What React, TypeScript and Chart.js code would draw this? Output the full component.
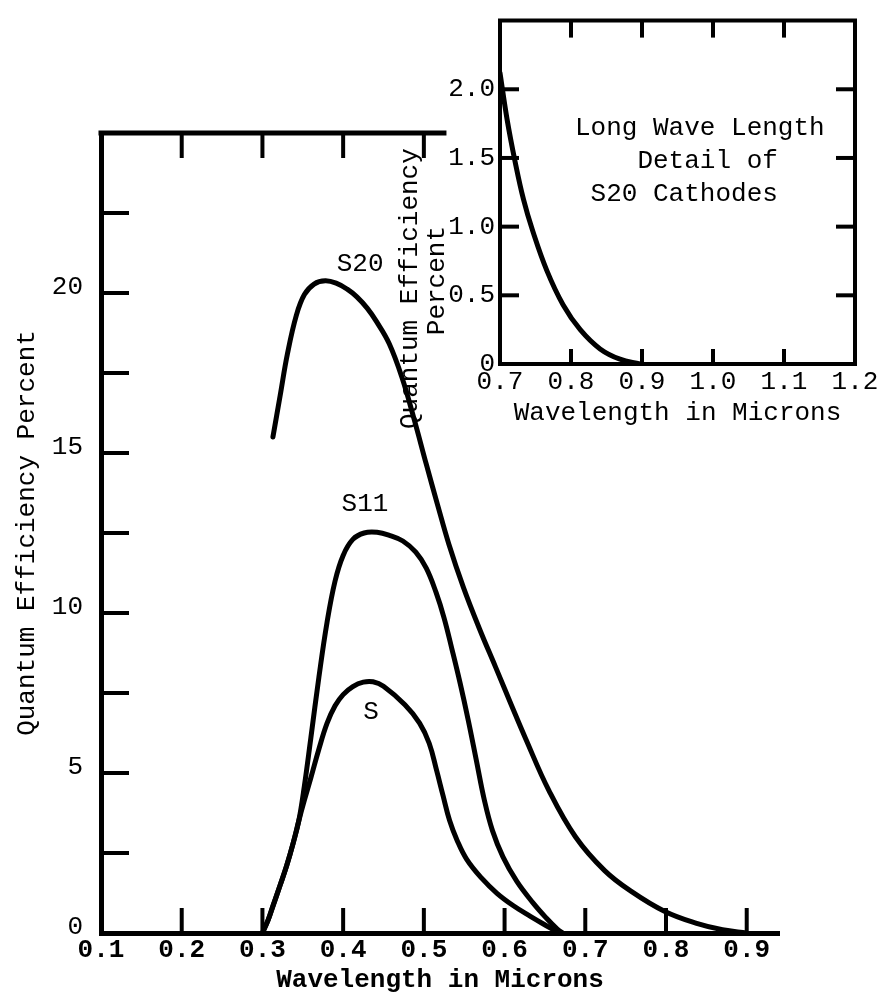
import React, { useEffect, useRef } from 'react';
import { Chart, registerables } from 'chart.js';

Chart.register(...registerables);

const FONT = '"Liberation Mono", "DejaVu Sans Mono", monospace';

// ---------- main chart data ----------
const mainXTicks = [0.1, 0.2, 0.3, 0.4, 0.5, 0.6, 0.7, 0.8, 0.9];
const mainYTicks = [0, 5, 10, 15, 20];
const mainYMarks = [2.5, 5, 7.5, 10, 12.5, 15, 17.5, 20, 22.5];
const mainBottomMarks = [0.2, 0.3, 0.4, 0.5, 0.6, 0.7, 0.8, 0.9];
const mainTopMarks = [0.2, 0.3, 0.4, 0.5];
const mainTopBorderEnd = 0.528;

const s20X = [0.313, 0.322, 0.331, 0.342, 0.352, 0.364, 0.378, 0.392, 0.405, 0.417, 0.430, 0.441, 0.457, 0.473, 0.488, 0.503, 0.517, 0.531, 0.549, 0.569, 0.589, 0.608, 0.626, 0.655, 0.688, 0.724, 0.757, 0.798, 0.838, 0.870, 0.900];
const s20Y = [15.5, 16.8, 18.1, 19.3, 19.95, 20.28, 20.38, 20.3, 20.12, 19.88, 19.52, 19.12, 18.42, 17.35, 16.05, 14.65, 13.38, 12.15, 10.8, 9.5, 8.3, 7.15, 6.08, 4.45, 3.0, 1.95, 1.3, 0.68, 0.3, 0.1, 0.0];

const s11X = [0.300, 0.307, 0.313, 0.322, 0.330, 0.338, 0.345, 0.352, 0.360, 0.370, 0.380, 0.390, 0.400, 0.412, 0.426, 0.442, 0.458, 0.474, 0.490, 0.503, 0.515, 0.525, 0.535, 0.545, 0.555, 0.565, 0.575, 0.585, 0.598, 0.615, 0.635, 0.652, 0.665, 0.672];
const s11Y = [0, 0.4, 0.84, 1.5, 2.1, 2.8, 3.5, 4.6, 6.1, 8.0, 9.7, 11.0, 11.8, 12.3, 12.5, 12.52, 12.42, 12.25, 11.9, 11.4, 10.65, 9.85, 8.85, 7.8, 6.65, 5.4, 4.15, 3.2, 2.38, 1.62, 0.95, 0.46, 0.13, 0];

const sX = [0.300, 0.307, 0.313, 0.322, 0.330, 0.338, 0.345, 0.352, 0.360, 0.370, 0.380, 0.390, 0.400, 0.412, 0.425, 0.437, 0.450, 0.4765, 0.4947, 0.5066, 0.5158, 0.5237, 0.5318, 0.5411, 0.5531, 0.5713, 0.5906, 0.611, 0.632, 0.657, 0.667];
const sY = [0, 0.4, 0.84, 1.5, 2.1, 2.8, 3.5, 4.15, 4.85, 5.75, 6.55, 7.1, 7.45, 7.7, 7.84, 7.85, 7.71, 7.13, 6.56, 5.93, 5.08, 4.3, 3.52, 2.9, 2.3, 1.72, 1.24, 0.85, 0.52, 0.15, 0];

const curveLabels = ['S20', 'S11', 'S'];
const curveLabelX = [0.421, 0.427, 0.4346];
const curveLabelY = [20.9, 13.4, 6.9];

// ---------- inset chart data ----------
const insetXTicks = [0.7, 0.8, 0.9, 1.0, 1.1, 1.2];
const insetYTicks = [0, 0.5, 1.0, 1.5, 2.0];
const insetYMarks = [0.5, 1.0, 1.5, 2.0];
const insetXMarks = [0.8, 0.9, 1.0, 1.1];
const insetX = [0.700, 0.710, 0.721, 0.733, 0.746, 0.766, 0.789, 0.813, 0.841, 0.869, 0.897];
const insetY = [2.12, 1.78, 1.48, 1.20, 0.97, 0.68, 0.43, 0.25, 0.11, 0.035, 0.0];
const insetNote = ['Long Wave Length', '    Detail of', ' S20 Cathodes'];
const insetYTitle = ['Quantum Efficiency', 'Percent'];

const pts = (xs: number[], ys: number[]) => xs.map((x, i) => ({ x, y: ys[i] }));

function seg(ctx: any, x1: number, y1: number, x2: number, y2: number) {
  ctx.beginPath();
  ctx.moveTo(x1, y1);
  ctx.lineTo(x2, y2);
  ctx.stroke();
}

const mainDecor = {
  id: 'mainDecor',
  afterDraw(chart: any) {
    const { ctx, scales } = chart;
    const x = scales.x;
    const y = scales.y;
    ctx.save();
    ctx.strokeStyle = '#000';
    ctx.fillStyle = '#000';
    ctx.lineWidth = 4;
    for (const v of mainYMarks) {
      const py = y.getPixelForValue(v);
      seg(ctx, x.left, py, x.left + 28, py);
    }
    for (const v of mainBottomMarks) {
      const px = x.getPixelForValue(v);
      seg(ctx, px, y.bottom, px, y.bottom - 25);
    }
    const yt = y.getPixelForValue(25);
    ctx.lineWidth = 5;
    seg(ctx, x.left - 2.5, yt, x.getPixelForValue(mainTopBorderEnd), yt);
    ctx.lineWidth = 4;
    for (const v of mainTopMarks) {
      const px = x.getPixelForValue(v);
      seg(ctx, px, yt, px, yt + 25);
    }
    ctx.font = `26px ${FONT}`;
    ctx.textAlign = 'center';
    ctx.textBaseline = 'middle';
    curveLabels.forEach((t, i) => {
      ctx.fillText(t, x.getPixelForValue(curveLabelX[i]), y.getPixelForValue(curveLabelY[i]));
    });
    ctx.restore();
  },
};

const insetDecor = {
  id: 'insetDecor',
  afterDraw(chart: any) {
    const { ctx, scales, chartArea } = chart;
    const x = scales.x;
    const y = scales.y;
    ctx.save();
    ctx.strokeStyle = '#000';
    ctx.fillStyle = '#000';
    ctx.lineWidth = 4;
    seg(ctx, x.left - 2, y.top, x.right + 2, y.top);
    seg(ctx, x.right, y.top, x.right, y.bottom + 2);
    for (const v of insetYMarks) {
      const py = y.getPixelForValue(v);
      seg(ctx, x.left, py, x.left + 19, py);
      seg(ctx, x.right, py, x.right - 19, py);
    }
    for (const v of insetXMarks) {
      const px = x.getPixelForValue(v);
      seg(ctx, px, y.bottom, px, y.bottom - 15);
      seg(ctx, px, y.top, px, y.top + 17);
    }
    ctx.font = `26px ${FONT}`;
    ctx.textBaseline = 'middle';
    ctx.textAlign = 'left';
    insetNote.forEach((t, i) => {
      ctx.fillText(t, chartArea.left + 75, chartArea.top + 108 + i * 33);
    });
    ctx.textAlign = 'center';
    const titleX = [chartArea.left - 90, chartArea.left - 63];
    const titleY = [chartArea.top + 268, chartArea.top + 260];
    insetYTitle.forEach((t, i) => {
      ctx.save();
      ctx.translate(titleX[i], titleY[i]);
      ctx.rotate(-Math.PI / 2);
      ctx.fillText(t, 0, 0);
      ctx.restore();
    });
    ctx.restore();
  },
};

export default function App() {
  const mainRef = useRef<HTMLCanvasElement>(null);
  const insetRef = useRef<HTMLCanvasElement>(null);

  useEffect(() => {
    const black = '#000';
    const lineDs = (xs: number[], ys: number[]) => ({
      data: pts(xs, ys),
      borderColor: black,
      borderWidth: 5,
      pointRadius: 0,
      tension: 0.4,
      borderCapStyle: 'round' as const,
      borderJoinStyle: 'round' as const,
      fill: false,
    });

    const main = new Chart(mainRef.current as HTMLCanvasElement, {
      type: 'line',
      data: { datasets: [lineDs(s20X, s20Y), lineDs(s11X, s11Y), lineDs(sX, sY)] },
      options: {
        animation: false,
        responsive: false,
        layout: { padding: { left: 0, right: 108, top: 133, bottom: 0 } },
        plugins: { legend: { display: false }, tooltip: { enabled: false } },
        scales: {
          x: {
            type: 'linear',
            min: 0.1,
            max: 0.94,
            afterBuildTicks: (s: any) => { s.ticks = mainXTicks.map((v) => ({ value: v })); },
            afterFit: (s: any) => { s.height = 67; },
            grid: { display: false, drawTicks: false },
            border: { display: true, color: black, width: 5 },
            ticks: {
              padding: 2,
              color: black,
              autoSkip: false,
              maxRotation: 0,
              font: { family: FONT, size: 26, weight: 'bold' },
              callback: (v: any) => Number(v).toFixed(1),
            },
            title: {
              display: true,
              text: 'Wavelength in Microns',
              color: black,
              font: { family: FONT, size: 26, weight: 'bold' },
              padding: { top: 0, bottom: 4 },
            },
          },
          y: {
            type: 'linear',
            min: 0,
            max: 25,
            afterBuildTicks: (s: any) => { s.ticks = mainYTicks.map((v) => ({ value: v })); },
            afterFit: (s: any) => { s.width = 101; },
            grid: { display: false, drawTicks: false },
            border: { display: true, color: black, width: 5 },
            ticks: {
              padding: 18,
              labelOffset: -6,
              color: black,
              font: { family: FONT, size: 26 },
              callback: (v: any) => String(v),
            },
            title: {
              display: true,
              text: 'Quantum Efficiency Percent',
              color: black,
              font: { family: FONT, size: 26 },
              padding: { top: 12, bottom: 0 },
            },
          },
        },
      } as any,
      plugins: [mainDecor],
    });

    const inset = new Chart(insetRef.current as HTMLCanvasElement, {
      type: 'line',
      data: { datasets: [lineDs(insetX, insetY)] },
      options: {
        animation: false,
        responsive: false,
        layout: { padding: { left: 0, right: 32, top: 15, bottom: 0 } },
        plugins: { legend: { display: false }, tooltip: { enabled: false } },
        scales: {
          x: {
            type: 'linear',
            min: 0.7,
            max: 1.2,
            afterBuildTicks: (s: any) => { s.ticks = insetXTicks.map((v) => ({ value: v })); },
            afterFit: (s: any) => { s.height = 76; },
            grid: { display: false, drawTicks: false },
            border: { display: true, color: black, width: 4 },
            ticks: {
              padding: 3,
              color: black,
              autoSkip: false,
              maxRotation: 0,
              font: { family: FONT, size: 26 },
              callback: (v: any) => Number(v).toFixed(1),
            },
            title: {
              display: true,
              text: 'Wavelength in Microns',
              color: black,
              font: { family: FONT, size: 26 },
              padding: { top: 0, bottom: 11 },
            },
          },
          y: {
            type: 'linear',
            min: 0,
            max: 2.5,
            afterBuildTicks: (s: any) => { s.ticks = insetYTicks.map((v) => ({ value: v })); },
            afterFit: (s: any) => { s.width = 120; },
            grid: { display: false, drawTicks: false },
            border: { display: true, color: black, width: 4 },
            ticks: {
              padding: 5,
              color: black,
              font: { family: FONT, size: 26 },
              callback: (v: any) => (Number(v) === 0 ? '0' : Number(v).toFixed(1)),
            },
            title: { display: false },
          },
        },
      } as any,
      plugins: [insetDecor],
    });

    return () => {
      main.destroy();
      inset.destroy();
    };
  }, []);

  return (
    <div style={{ position: 'absolute', left: 0, top: 0, width: 887, height: 1000, background: '#fff' }}>
      <canvas ref={mainRef} width={887} height={1000} style={{ position: 'absolute', left: 0, top: 0, width: 887, height: 1000 }} />
      <canvas ref={insetRef} width={507} height={440} style={{ position: 'absolute', left: 380, top: 0, width: 507, height: 440 }} />
    </div>
  );
}
